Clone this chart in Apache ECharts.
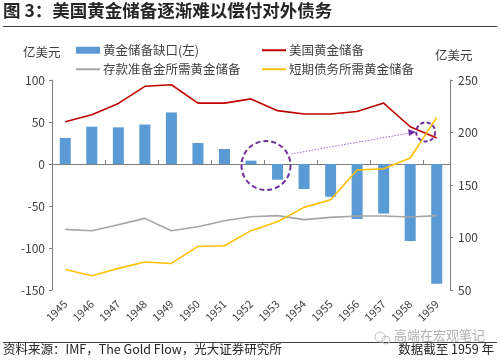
<!DOCTYPE html>
<html><head><meta charset="utf-8">
<script src="https://cdn.jsdelivr.net/npm/echarts@6/dist/echarts.min.js"></script>
<style>html,body{margin:0;padding:0;background:#fff}#c{width:500px;height:361px}</style>
</head><body><div id="c"></div>
<script>
const years = ['1945','1946','1947','1948','1949','1950','1951','1952','1953','1954','1955','1956','1957','1958','1959'];
const gap = [31, 44.4, 43.6, 47, 61.4, 25, 17.9, 4, -18.7, -29.8, -39, -65.5, -59, -91.7, -142.5];
const usGold = [210.3, 217, 227.7, 244, 245.5, 228, 228, 232, 220.8, 217.6, 217.6, 220, 228, 205.5, 194.8];
const depositReq = [107.7, 106.5, 112.2, 118.2, 106.5, 110.3, 116, 119.8, 120.8, 117, 119.2, 120.5, 120.5, 119.5, 120.8];
const shortDebtReq = [69.6, 63.6, 70.6, 76.7, 75.3, 91.5, 92.2, 106.5, 115, 128.7, 136, 164.3, 165.5, 175.7, 214.4];
const names = ['黄金储备缺口(左)', '美国黄金储备', '存款准备金所需黄金储备', '短期债务所需黄金储备'];

const FF = '"Noto Sans CJK SC", "Noto Sans", sans-serif';
const axisColor = '#7f7f7f';
const textColor = '#404040';
const chart = echarts.init(document.getElementById('c'), null, {renderer: 'canvas'});

function leg(name, left, top, icon, h) {
  return {data: [{name: name, icon: icon}], left: left, top: top, itemWidth: 24, itemHeight: h, itemGap: 4,
    textStyle: {fontFamily: FF, fontSize: 12.5, color: textColor, padding: [0,0,0,-2]}, padding: 0};
}

chart.setOption({
  animation: false,
  textStyle: {fontFamily: FF},
  grid: {left: 52, right: 50, top: 80, bottom: 71, containLabel: false},
  legend: [
    leg(names[0], 76, 44, 'rect', 7),
    leg(names[1], 262, 44, 'rect', 2),
    leg(names[2], 76, 63, 'rect', 2),
    leg(names[3], 262, 63, 'rect', 2)
  ],
  xAxis: [
    {type: 'category', data: years, position: 'bottom',
      axisLine: {onZero: true, onZeroAxisIndex: 0, lineStyle: {color: axisColor, width: 1}},
      axisTick: {show: true, inside: true, length: 4, lineStyle: {color: axisColor}},
      axisLabel: {show: false}, splitLine: {show: false}},
    {type: 'category', data: years, position: 'bottom', offset: 0,
      axisLine: {show: false}, axisTick: {show: false},
      axisLabel: {show: true, rotate: 45, fontSize: 11, color: textColor, fontFamily: FF, margin: 12, interval: 0},
      splitLine: {show: false}}
  ],
  yAxis: [
    {type: 'value', min: -150, max: 100, interval: 50, position: 'left',
      axisLine: {show: true, lineStyle: {color: axisColor}},
      axisTick: {show: true, length: 3, lineStyle: {color: axisColor}},
      axisLabel: {fontSize: 12, color: textColor, fontFamily: FF, margin: 7},
      splitLine: {show: false}},
    {type: 'value', min: 50, max: 250, interval: 50, position: 'right',
      axisLine: {show: true, lineStyle: {color: axisColor}},
      axisTick: {show: true, length: 3, lineStyle: {color: axisColor}},
      axisLabel: {fontSize: 12, color: textColor, fontFamily: FF, margin: 8},
      splitLine: {show: false}}
  ],
  series: [
    {name: names[0], type: 'bar', xAxisIndex: 0, yAxisIndex: 0, data: gap, barWidth: 11,
      itemStyle: {color: '#5B9BD5'}, z: 2},
    {name: names[1], type: 'line', xAxisIndex: 0, yAxisIndex: 1, data: usGold, symbol: 'none',
      lineStyle: {color: '#C00000', width: 1.6}, itemStyle: {color: '#C00000'}, z: 3},
    {name: names[2], type: 'line', xAxisIndex: 0, yAxisIndex: 1, data: depositReq, symbol: 'none',
      lineStyle: {color: '#A5A5A5', width: 1.6}, itemStyle: {color: '#A5A5A5'}, z: 3},
    {name: names[3], type: 'line', xAxisIndex: 0, yAxisIndex: 1, data: shortDebtReq, symbol: 'none',
      lineStyle: {color: '#FFC000', width: 1.6}, itemStyle: {color: '#FFC000'}, z: 3}
  ],
  graphic: [
    {type: 'text', left: 3, top: 2, style: {text: '图 3：美国黄金储备逐渐难以偿付对外债务', fontFamily: FF, fontSize: 17.5, fontWeight: 'bold', fill: '#262626'}},
    {type: 'line', shape: {x1: 3, y1: 26.5, x2: 497, y2: 26.5}, style: {stroke: '#404040', lineWidth: 1}},
    {type: 'text', left: 23, top: 46, style: {text: '亿美元', fontFamily: FF, fontSize: 12.5, fill: textColor}},
    {type: 'text', left: 435, top: 49, style: {text: '亿美元', fontFamily: FF, fontSize: 12.5, fill: textColor}},
    {type: 'circle', shape: {cx: 266, cy: 165.5, r: 24.5}, style: {fill: 'none', stroke: '#7030A0', lineWidth: 2, lineDash: [5, 3]}, z: 10},
    {type: 'circle', shape: {cx: 425.7, cy: 132, r: 9.5}, style: {fill: 'none', stroke: '#7030A0', lineWidth: 2, lineDash: [4, 2.5]}, z: 10},
    {type: 'line', shape: {x1: 291, y1: 154, x2: 410, y2: 133}, style: {stroke: '#9966CC', lineWidth: 1, lineDash: [1.5, 1.5]}, z: 10},
    {type: 'polygon', shape: {points: [[416, 132], [408, 129], [409, 136]]}, style: {fill: '#7030A0'}, z: 10},
    {type: 'line', shape: {x1: 3, y1: 342.5, x2: 497, y2: 342.5}, style: {stroke: '#404040', lineWidth: 1}},
    {type: 'text', left: 3, top: 343, style: {text: '资料来源：IMF，The Gold Flow，光大证券研究所', fontFamily: FF, fontSize: 12.5, fill: '#262626'}},
    {type: 'text', right: 6, top: 343, style: {text: '数据截至 1959 年', fontFamily: FF, fontSize: 12.5, fill: '#262626'}},
    {type: 'text', left: 394, top: 329, style: {text: '高端在宏观笔记', fontFamily: FF, fontSize: 13, fill: '#b0b0b0'}, z: 20},
    {type: 'circle', shape: {cx: 380, cy: 337, r: 5}, style: {fill: 'none', stroke: '#c0c0c0', lineWidth: 1}, z: 20},
    {type: 'circle', shape: {cx: 386, cy: 340, r: 4}, style: {fill: 'none', stroke: '#c0c0c0', lineWidth: 1}, z: 20}
  ]
});
</script></body></html>
